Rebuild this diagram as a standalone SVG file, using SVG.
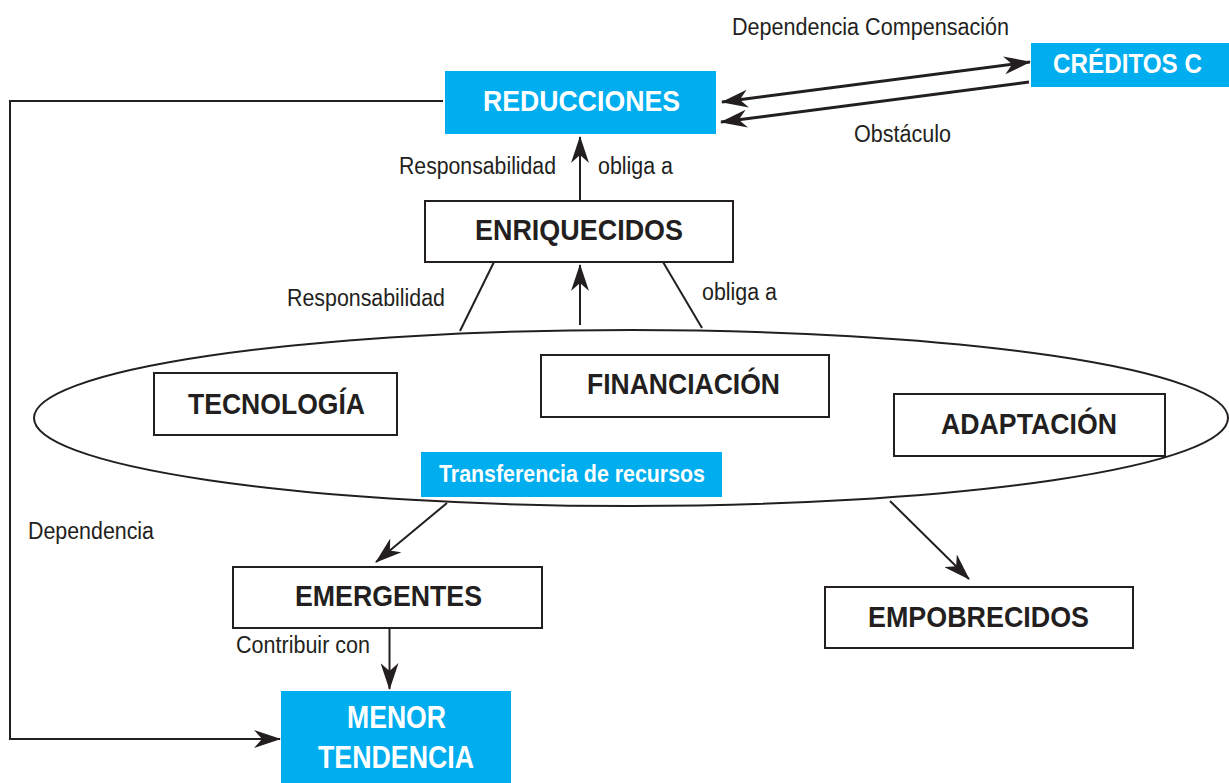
<svg xmlns="http://www.w3.org/2000/svg" width="1229" height="783" viewBox="0 0 1229 783">
<style>
.blue{fill:#00aeef;}
.box{fill:#fff;stroke:#231f20;stroke-width:2;}
.wt{font-family:"Liberation Sans Narrow","Liberation Sans",Arial,sans-serif;font-weight:bold;fill:#fff;}
.bt{font-family:"Liberation Sans Narrow","Liberation Sans",Arial,sans-serif;font-weight:bold;fill:#231f20;font-size:30px;}
.lb{font-family:"Liberation Sans Narrow","Liberation Sans",Arial,sans-serif;fill:#231f20;font-size:23px;}
.ln{fill:none;stroke:#231f20;stroke-width:2;}
.thick{stroke-width:3;}
</style>
<defs>
<marker id="ah" viewBox="0 0 27 18" refX="26" refY="9" markerWidth="27" markerHeight="18" markerUnits="userSpaceOnUse" orient="auto-start-reverse">
<path d="M0,0 L27,9 L0,18 L8,9 z" fill="#231f20"/>
</marker>
</defs>
<ellipse cx="631" cy="418" rx="597" ry="88" fill="#fff" stroke="#231f20" stroke-width="2"/>
<g id="connectors">
<line class="ln thick" x1="722" y1="102" x2="1030" y2="62" marker-start="url(#ah)" marker-end="url(#ah)"/>
<line class="ln thick" x1="1029" y1="82" x2="721" y2="122" marker-end="url(#ah)"/>
<line class="ln" x1="580" y1="201" x2="580" y2="137" marker-end="url(#ah)"/>
<line class="ln" x1="580" y1="325" x2="580" y2="265" marker-end="url(#ah)"/>
<line class="ln" x1="494" y1="262" x2="460" y2="331"/>
<line class="ln" x1="663" y1="262" x2="702" y2="328"/>
<line class="ln" x1="447" y1="503" x2="376" y2="562" marker-end="url(#ah)"/>
<line class="ln" x1="890" y1="501" x2="969" y2="579" marker-end="url(#ah)"/>
<line class="ln" x1="389.5" y1="628" x2="389.5" y2="689" marker-end="url(#ah)"/>
<polyline class="ln" points="443,101 10,101 10,739 280,739" marker-end="url(#ah)"/>
</g>
<g id="labels">
<text class="lb" x="732" y="35" textLength="277" lengthAdjust="spacingAndGlyphs">Dependencia Compensación</text>
<text class="lb" x="854" y="142" textLength="97" lengthAdjust="spacingAndGlyphs">Obstáculo</text>
<text class="lb" x="399" y="174" textLength="157" lengthAdjust="spacingAndGlyphs">Responsabilidad</text>
<text class="lb" x="598" y="174" textLength="75" lengthAdjust="spacingAndGlyphs">obliga a</text>
<text class="lb" x="287" y="306" textLength="158" lengthAdjust="spacingAndGlyphs">Responsabilidad</text>
<text class="lb" x="702" y="300" textLength="75" lengthAdjust="spacingAndGlyphs">obliga a</text>
<text class="lb" x="28" y="539" textLength="126" lengthAdjust="spacingAndGlyphs">Dependencia</text>
<text class="lb" x="236" y="653" textLength="134" lengthAdjust="spacingAndGlyphs">Contribuir con</text>
</g>
<g id="reducciones">
<rect class="blue" x="445" y="71" width="271" height="63"/>
<text class="wt" x="483" y="111" font-size="30" textLength="197" lengthAdjust="spacingAndGlyphs">REDUCCIONES</text>
</g>
<g id="creditos">
<rect class="blue" x="1031" y="43" width="198" height="44"/>
<text class="wt" x="1053" y="73" font-size="27" textLength="149" lengthAdjust="spacingAndGlyphs">CRÉDITOS C</text>
</g>
<g id="enriquecidos">
<rect class="box" x="425" y="201" width="308" height="61"/>
<text class="bt" x="475" y="240" textLength="208" lengthAdjust="spacingAndGlyphs">ENRIQUECIDOS</text>
</g>
<g id="tecnologia">
<rect class="box" x="154" y="373" width="243" height="62"/>
<text class="bt" x="188" y="414" textLength="177" lengthAdjust="spacingAndGlyphs">TECNOLOGÍA</text>
</g>
<g id="financiacion">
<rect class="box" x="541" y="355" width="288" height="62"/>
<text class="bt" x="587" y="394" textLength="193" lengthAdjust="spacingAndGlyphs">FINANCIACIÓN</text>
</g>
<g id="adaptacion">
<rect class="box" x="894" y="394" width="271" height="62"/>
<text class="bt" x="941" y="434" textLength="176" lengthAdjust="spacingAndGlyphs">ADAPTACIÓN</text>
</g>
<g id="transferencia">
<rect class="blue" x="421" y="452" width="301" height="45"/>
<text class="wt" x="439" y="482" font-size="24" textLength="266" lengthAdjust="spacingAndGlyphs">Transferencia de recursos</text>
</g>
<g id="emergentes">
<rect class="box" x="233" y="567" width="309" height="61"/>
<text class="bt" x="295" y="606" textLength="187" lengthAdjust="spacingAndGlyphs">EMERGENTES</text>
</g>
<g id="empobrecidos">
<rect class="box" x="825" y="587" width="308" height="61"/>
<text class="bt" x="868" y="627" textLength="221" lengthAdjust="spacingAndGlyphs">EMPOBRECIDOS</text>
</g>
<g id="menor">
<rect class="blue" x="281" y="691" width="230" height="92"/>
<text class="wt" x="347" y="728" font-size="31" textLength="99" lengthAdjust="spacingAndGlyphs">MENOR</text>
<text class="wt" x="318" y="768" font-size="31" textLength="156" lengthAdjust="spacingAndGlyphs">TENDENCIA</text>
</g>
</svg>
